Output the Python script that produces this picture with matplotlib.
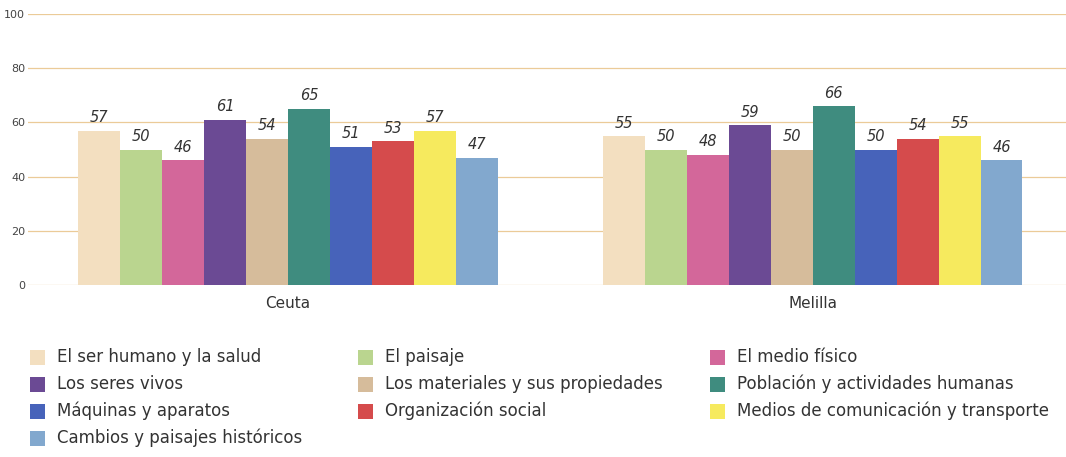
import matplotlib
matplotlib.use("Agg")
import matplotlib.pyplot as plt
from matplotlib.patches import Rectangle
import numpy as np

cities = ["Ceuta", "Melilla"]
categories = [
    "El ser humano y la salud",
    "El paisaje",
    "El medio físico",
    "Los seres vivos",
    "Los materiales y sus propiedades",
    "Población y actividades humanas",
    "Máquinas y aparatos",
    "Organización social",
    "Medios de comunicación y transporte",
    "Cambios y paisajes históricos",
]
ceuta = [57, 50, 46, 61, 54, 65, 51, 53, 57, 47]
melilla = [55, 50, 48, 59, 50, 66, 50, 54, 55, 46]
y_ticks = [0, 20, 40, 60, 80, 100]

colors = ["#F3DFC0", "#BAD58F", "#D3679A", "#6B4A94", "#D6BC9B",
          "#3F8C7F", "#4763BA", "#D54B4C", "#F6EA5E", "#82A8CE"]

W, H = 1066, 457
fig = plt.figure(figsize=(W / 100, H / 100), dpi=100)
ax = fig.add_axes([28 / W, 1 - 285 / H, 1 - 28 / W, 271 / H])

values = np.array([ceuta, melilla])
n = len(categories)
bw = 0.08
x = np.arange(len(cities))
for i in range(n):
    pos = x + (i - (n - 1) / 2) * bw
    bars = ax.bar(pos, values[:, i], width=bw, color=colors[i], edgecolor="none", zorder=2)
    for b, v in zip(bars, values[:, i]):
        ax.text(b.get_x() + b.get_width() / 2, v + 2.0, str(v), ha="center", va="bottom",
                fontsize=10.5, fontstyle="italic", color="#333333", zorder=3)

ax.set_ylim(0, 100)
ax.set_xlim(-0.496, 1.483)
ax.set_yticks(y_ticks)
ax.set_yticklabels([str(t) for t in y_ticks], fontsize=8, color="#444444")
ax.tick_params(axis="y", length=0, pad=2)
ax.set_xticks(x)
ax.set_xticklabels(cities, fontsize=11, color="#333333")
ax.tick_params(axis="x", length=0, pad=8)
ax.yaxis.grid(True, color="#EBCB98", linewidth=0.9, zorder=0)
ax.set_axisbelow(True)
for s in ax.spines.values():
    s.set_visible(False)

# legend laid out row-wise in 3 columns
col_x = [30, 358, 710]
row_y = [357, 384, 411, 438]
for k, (lab, c) in enumerate(zip(categories, colors)):
    r, cidx = divmod(k, 3)
    sx = col_x[cidx]
    sy = row_y[r]
    fig.patches.append(Rectangle((sx / W, 1 - (sy + 7.5) / H), 15 / W, 15 / H,
                                 transform=fig.transFigure, facecolor=c, edgecolor="none"))
    fig.text((sx + 27) / W, 1 - sy / H, lab, fontsize=12, color="#333333",
             ha="left", va="center")

fig.savefig("out.png", dpi=100)
